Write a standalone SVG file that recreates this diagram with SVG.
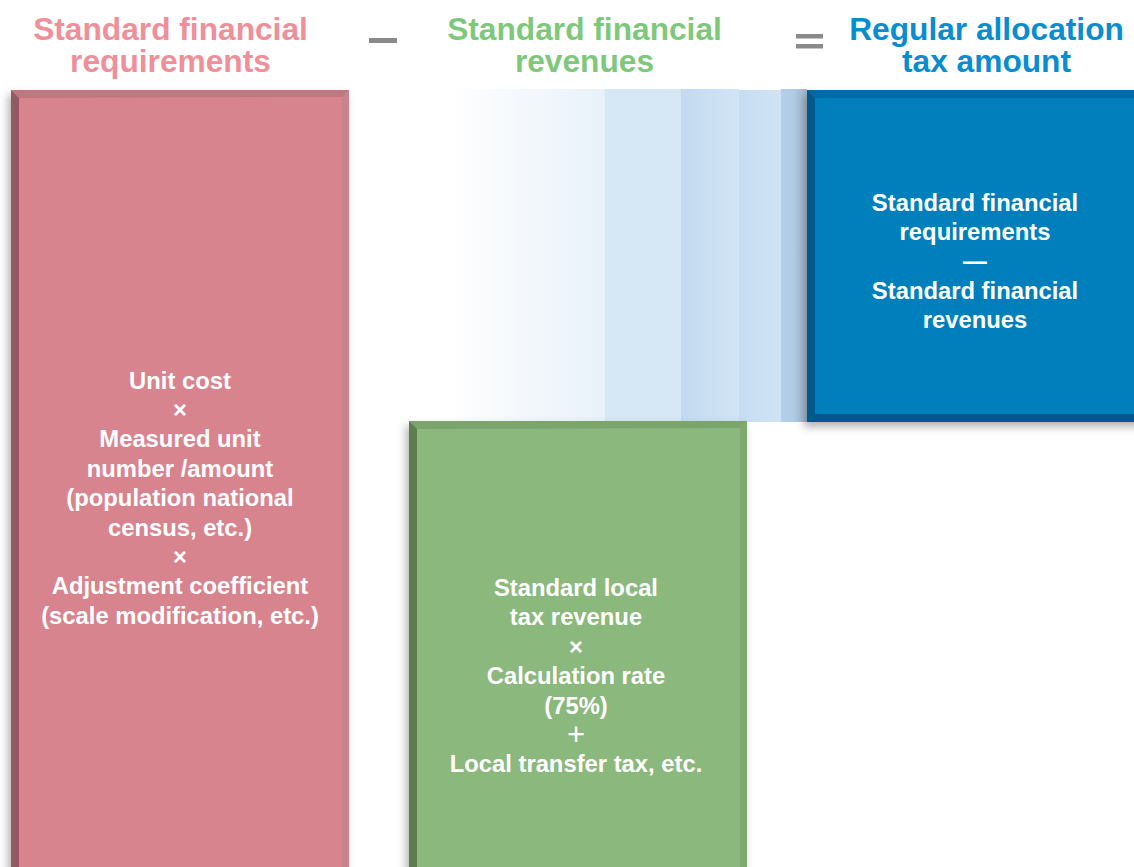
<svg xmlns="http://www.w3.org/2000/svg" width="1134" height="867" viewBox="0 0 1134 867">
<defs>
<style>
.title{font-family:"Liberation Sans",Arial,sans-serif;font-weight:bold;font-size:31.7px;text-anchor:middle}
.body{font-family:"Liberation Sans",Arial,sans-serif;font-weight:bold;font-size:23.8px;fill:#ffffff;text-anchor:middle}
.op{fill:#8a8a8a}
</style>
<filter id="sh" x="-10%" y="-10%" width="120%" height="130%">
<feGaussianBlur in="SourceAlpha" stdDeviation="4"/>
<feOffset dx="-3" dy="5" result="b"/>
<feFlood flood-color="#555" flood-opacity="0.45"/>
<feComposite in2="b" operator="in"/>
<feMerge><feMergeNode/><feMergeNode in="SourceGraphic"/></feMerge>
</filter>
<linearGradient id="fade" x1="0" y1="0" x2="1" y2="0">
<stop offset="0" stop-color="#ffffff"/>
<stop offset="0.12" stop-color="#fcfdfe"/>
<stop offset="1" stop-color="#e8f1fa"/>
</linearGradient>
<linearGradient id="g2" x1="0" y1="0" x2="1" y2="0">
<stop offset="0" stop-color="#c2daf0"/>
<stop offset="1" stop-color="#d2e4f5"/>
</linearGradient>
<linearGradient id="g3" x1="0" y1="0" x2="1" y2="0">
<stop offset="0" stop-color="#c6ddf2"/>
<stop offset="1" stop-color="#d0e3f4"/>
</linearGradient>
<linearGradient id="g4" x1="0" y1="0" x2="1" y2="0">
<stop offset="0" stop-color="#b3d0ec"/>
<stop offset="0.5" stop-color="#b0cbe4"/>
<stop offset="1" stop-color="#9fb5c9"/>
</linearGradient>
</defs>
<rect width="1134" height="867" fill="#ffffff"/>

<g id="titles">
<text class="title" x="170.5" y="40" fill="#ef8f99">Standard financial</text>
<text class="title" x="170.5" y="72" fill="#ef8f99">requirements</text>
<text class="title" x="584.5" y="40" fill="#7ec87c">Standard financial</text>
<text class="title" x="584.5" y="72" fill="#7ec87c">revenues</text>
<text class="title" x="986.5" y="40" fill="#0a8dd0">Regular allocation</text>
<text class="title" x="986.5" y="72" fill="#0a8dd0">tax amount</text>
<rect class="op" x="369" y="38" width="28" height="5"/>
<rect class="op" x="796" y="34" width="27" height="4.5"/>
<rect class="op" x="796" y="44" width="27" height="4.5"/>
</g>

<g id="band">
<rect x="450" y="89" width="155" height="333" fill="url(#fade)"/>
<rect x="605" y="89" width="76" height="333" fill="#d6e8f6"/>
<rect x="681" y="89" width="58" height="333" fill="url(#g2)"/>
<rect x="739" y="90" width="42" height="332" fill="url(#g3)"/>
<rect x="781" y="89" width="26" height="333" fill="url(#g4)"/>
</g>

<g id="node-requirements">
<g filter="url(#sh)">
<rect x="11" y="90" width="338" height="810" fill="#d8848f"/>
</g>
<polygon points="11,90 349,90 342,97 19,98" fill="#c27680"/>
<polygon points="11,90 19,98 19,900 11,900" fill="#935a64"/>
<polygon points="349,90 349,900 342,900 342,97" fill="#c8838b"/>
<text class="body" x="180" y="388.5">Unit cost</text>
<text class="body" x="180" y="418">×</text>
<text class="body" x="180" y="447.4">Measured unit</text>
<text class="body" x="180" y="476.8">number /amount</text>
<text class="body" x="180" y="506.2">(population national</text>
<text class="body" x="180" y="535.6">census, etc.)</text>
<text class="body" x="180" y="565">×</text>
<text class="body" x="180" y="594.4">Adjustment coefficient</text>
<text class="body" x="180" y="623.8">(scale modification, etc.)</text>
</g>

<g id="node-revenues">
<g filter="url(#sh)">
<rect x="409" y="421" width="338" height="480" fill="#8bb87d"/>
</g>
<polygon points="409,421 747,421 740,428 417,429" fill="#7ba56d"/>
<polygon points="409,421 417,429 417,900 409,900" fill="#5e7e50"/>
<polygon points="747,421 747,900 740,900 740,428" fill="#7eaa6f"/>
<text class="body" x="576" y="596">Standard local</text>
<text class="body" x="576" y="625.4">tax revenue</text>
<text class="body" x="576" y="654.8">×</text>
<text class="body" x="576" y="684.2">Calculation rate</text>
<text class="body" x="576" y="713.6">(75%)</text>
<text class="body" x="576" y="745" style="font-weight:normal;font-size:31px">+</text>
<text class="body" x="576" y="772.4">Local transfer tax, etc.</text>
</g>

<g id="node-allocation">
<g filter="url(#sh)">
<rect x="807" y="90" width="340" height="332" fill="#007fbd"/>
</g>
<polygon points="807,90 1147,90 1147,98 815,98" fill="#006ba6"/>
<polygon points="807,90 815,98 815,414 807,422" fill="#00598a"/>
<polygon points="807,422 815,414 1147,414 1147,422" fill="#00598a"/>
<text class="body" x="975" y="210.5">Standard financial</text>
<text class="body" x="975" y="240">requirements</text>
<text class="body" x="975" y="269.4">—</text>
<text class="body" x="975" y="298.8">Standard financial</text>
<text class="body" x="975" y="328.2">revenues</text>
</g>

<g id="connectors"></g>
</svg>
